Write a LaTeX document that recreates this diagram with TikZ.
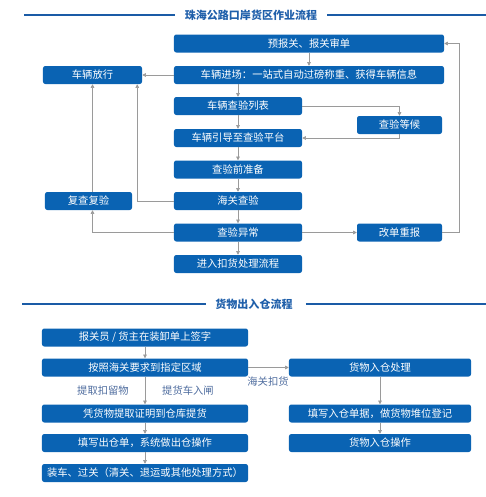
\documentclass[tikz,border=0pt]{standalone}
\usepackage{fontspec}
\newfontfamily\cjk{Noto Sans CJK SC}
\usepackage{xcolor}
\usetikzlibrary{positioning, arrows.meta, calc}

\definecolor{boxblue}{HTML}{0A63B3}
\definecolor{headblue}{HTML}{1F5FAA}
\definecolor{lineblue}{HTML}{1A5BA6}
\definecolor{arrgray}{HTML}{9A9A9A}
\definecolor{lbltext}{HTML}{4E6C9E}

\begin{document}
\begin{tikzpicture}[
    x=0.03cm, y=-0.03cm,
    >={Triangle[length=3.2pt, width=3.2pt]},
    stp/.style={
      fill=boxblue, rounded corners=2pt,
      minimum height=0.54cm, inner sep=0pt,
      align=center, text=white,
      font=\cjk\fontsize{8.8}{10}\selectfont},
    wide/.style={stp, minimum width=8.1cm},
    mid/.style={stp, minimum width=3.84cm},
    small/.style={stp, minimum width=2.55cm},
    half/.style={stp, minimum width=6.18cm},
    right/.style={stp, minimum width=5.46cm},
    arr/.style={->, arrgray, line width=0.6pt},
    lbl/.style={font=\cjk\fontsize{8.8}{10}\selectfont,
                text=lbltext, inner sep=0pt},
    phase/.style={font=\cjk\bfseries\fontsize{9.4}{11}\selectfont,
                  text=headblue, inner sep=0pt},
    rule/.style={lineblue, line width=1.6pt},
]

\useasboundingbox (0,0) rectangle (486,497);

% Column positions
\def\colA{238}
\def\colB{309}
\def\colC{399.5}
\def\colD{145}
\def\colE{380}

% --- Yard section header ---
\node[phase] (head1) at (251,15) {珠海公路口岸货区作业流程};
\coordinate (h1l) at (24,15);
\coordinate (h1r) at (486,15);
\draw[rule] (h1l) -- ($(head1.west)+(-10,0)$);
\draw[rule] ($(head1.east)+(10,0)$) -- (h1r);

% --- Main column ---
\node[wide]  (prereport) at (\colB, 43.5)  {预报关、报关审单};
\node[wide]  (entry)     at (\colB, 75)    {车辆进场：一站式自动过磅称重、获得车辆信息};
\node[mid]   (list)      at (\colA, 106)   {车辆查验列表};
\node[mid]   (guide)     at (\colA, 138)   {车辆引导至查验平台};
\node[mid]   (prep)      at (\colA, 169.5) {查验前准备};
\node[mid]   (inspect)   at (\colA, 201)   {海关查验};
\node[mid]   (abnormal)  at (\colA, 232.5) {查验异常};
\node[mid]   (detain)    at (\colA, 264)   {进入扣货处理流程};

% --- Side boxes ---
\node[small, minimum width=2.97cm] (release) at (92.5, 75)  {车辆放行};
\node[small, minimum width=2.61cm] (recheck) at (88.5, 201) {复查复验};
\node[small] (wait)     at (\colC, 125)   {查验等候};
\node[small] (resubmit) at (\colC, 232.5) {改单重报};

\draw[arr] (prereport) -- (prereport |- entry.north);
\draw[arr] (entry.west) -- (release.east);
\draw[arr] (list |- entry.south) -- (list);
\draw[arr] (list) -- (guide);
\draw[arr] (guide) -- (prep);
\draw[arr] (prep) -- (inspect);
\draw[arr] (inspect) -- (abnormal);
\draw[arr] (abnormal) -- (detain);

% waiting loop
\draw[arr] (list.east) -| (wait.north);
\draw[arr] (wait.south) |- (guide.east);

% release paths
\coordinate (relin) at ($(release.south east)+(-5,0)$);
\draw[arr] (inspect.west) -| (relin);
\draw[arr] (recheck.north -| release.south) -- (release.south);
\draw[arr] (abnormal.west) -| (release.south |- recheck.south);

% resubmit loop
\draw[arr] (abnormal) -- (resubmit);
\draw[arr] (resubmit.east) -- ++(17,0) |- (prereport.east);

% --- Warehouse section header ---
\node[phase] (head2) at (254,304) {货物出入仓流程};
\coordinate (h2l) at (22,304);
\coordinate (h2r) at (486,304);
\draw[rule] (h2l) -- ($(head2.west)+(-9,0)$);
\draw[rule] ($(head2.east)+(13,0)$) -- (h2r);

% --- Outbound column ---
\node[half] (sign)    at (\colD, 337.5) {报关员 / 货主在装卸单上签字};
\node[half] (zone)    at (\colD, 367.5) {按照海关要求到指定区域};
\node[half] (pickup)  at (\colD, 413.5) {凭货物提取证明到仓库提货};
\node[half] (outform) at (\colD, 443)   {填写出仓单，系统做出仓操作};
\node[half] (load)    at (\colD, 473)   {装车、过关（清关、退运或其他处理方式）};

\draw[arr] (sign) -- (zone);
\draw[arr] (zone) -- (pickup);
\draw[arr] (pickup) -- (outform);
\draw[arr] (outform) -- (load);

\node[lbl] (takeout) at (103,391) {提取扣留物};
\node[lbl] (truckin) at (188,391) {提货车入闸};

% --- Inbound column ---
\node[right] (inbound) at (\colE, 367.5) {货物入仓处理};
\node[right] (inform)  at (\colE, 413.5) {填写入仓单据，做货物堆位登记};
\node[right] (inop)    at (\colE, 443)   {货物入仓操作};

\draw[arr] (zone) -- (inbound);
\node[lbl] (hold) at (268,382) {海关扣货};
\draw[arr] (inbound) -- (inform);
\draw[arr] (inform) -- (inop);

\end{tikzpicture}
\end{document}
